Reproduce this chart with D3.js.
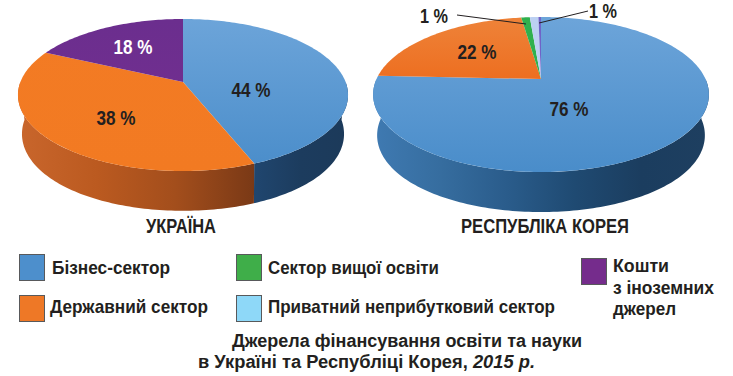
<!DOCTYPE html>
<html><head><meta charset="utf-8">
<script src="https://cdn.jsdelivr.net/npm/d3@7"></script>
<style>html,body{margin:0;padding:0;background:#fff}svg{display:block}
text{font-family:"Liberation Sans",Arial,sans-serif;font-weight:700;fill:#231f20}</style>
</head><body><svg id="c" width="733" height="376"></svg>
<script>
const categories=["Бізнес-сектор","Державний сектор","Сектор вищої освіти","Приватний неприбутковий сектор","Кошти з іноземних джерел"];
const ukraineValues=[44,38,0,0,18];
const koreaValues=[75.7,22,1,1,0.3];
const ukraineLabels=["44 %","38 %","","","18 %"];
const koreaLabels=["76 %","22 %","1 %","1 %",""];
const topColors=[["#6ca4d9","#4a8dca"],["#f37b24","#f27a22"],["#2fb04e","#2fb04e"],["#bcd0f2","#bcd0f2"],["#6b2e8e","#762f91"]];
const koreaOrange=["#ee8238","#ed6e20"];
const legendColors=["#4d8fcc","#ee7826","#3fae49","#8ed8f8","#752c8c"];

const svg=d3.select("#c");
const defs=svg.append("defs");
const pie=d3.pie().sort(null).startAngle(0).endAngle(2*Math.PI).value(d=>d);

function vGrad(id,a,b,y1,y2){
  const g=defs.append("linearGradient").attr("id",id).attr("gradientUnits","userSpaceOnUse")
    .attr("x1",0).attr("x2",0).attr("y1",y1).attr("y2",y2);
  g.append("stop").attr("offset",0).attr("stop-color",a);
  g.append("stop").attr("offset",1).attr("stop-color",b);
}
function hGrad(id,stops){
  const g=defs.append("linearGradient").attr("id",id);
  stops.forEach((c,i)=>g.append("stop").attr("offset",i/(stops.length-1)).attr("stop-color",c));
}
hGrad("sideOrangeUA",["#c9662c","#bb5a20","#a34e1c","#7a3916"]);
hGrad("sideBlueUA",["#20466f","#1c3c5e","#1c3a5a"]);
hGrad("sideBlueKR",["#3f7ab2","#366d9f","#2a5c8b","#1f4a72","#1b3d5f","#1e3f60"]);

function label(sel,x,y,size,width,anchor,txt){
  return sel.append("text").attr("x",x).attr("y",y).attr("text-anchor",anchor).attr("font-size",size)
    .attr("textLength",width).attr("lengthAdjust","spacingAndGlyphs").text(txt);
}
function drawPie(id,o){
  const g=svg.append("g").attr("id",id);
  const arcs=pie(o.values);
  const px=(th,low)=>{
    const u=Math.sin(th),v=-Math.cos(th),w=1-o.k*v;
    const sx=low?1-o.shrink*u*u:1,sy=low?o.lowY:1;
    return [o.cx+sx*o.rx*u/w,o.ay+(low?o.depth:0)+sy*o.ry*v/w];
  };
  const line=d3.line();
  const range=(a,b)=>{const n=Math.max(2,Math.ceil((b-a)/0.02));return d3.range(n+1).map(i=>a+(b-a)*i/n);};
  arcs.forEach((d,i)=>{
    const a=Math.max(d.startAngle,Math.PI/2),b=Math.min(d.endAngle,3*Math.PI/2);
    if(b<=a||!o.side[i])return;
    const t=range(a,b);
    const pts=t.map(x=>px(x,false)).concat(t.slice().reverse().map(x=>px(x,true)));
    g.append("path").attr("d",line(pts)+"Z").attr("fill",`url(#${o.side[i]})`);
  });
  arcs.forEach((d,i)=>{
    if(d.endAngle-d.startAngle<=0)return;
    const pts=[[o.cx,o.ay]].concat(range(d.startAngle,d.endAngle).map(x=>px(x,false)));
    g.append("path").attr("d",line(pts)+"Z").attr("fill",o.fill[i]);
  });
  o.labelPos.forEach((p,i)=>{
    if(!o.labels[i])return;
    label(g,p[0],p[1],20,p[2],"middle",o.labels[i]).style("fill",p[3]||"#231f20");
  });
  label(g,o.titleX,233,21,o.titleW,"middle",o.title);
}
const uaFill=["ua0","ua1","ua2","ua3","ua4"].map((id,i)=>{vGrad(id,topColors[i][0],topColors[i][1],20,170);return `url(#${id})`;});
const krFill=["kr0","kr1","kr2","kr3","kr4"].map((id,i)=>{
  const c=i==1?koreaOrange:topColors[i];
  if(i==1)vGrad(id,c[0],c[1],20,80);else vGrad(id,c[0],c[1],20,170);
  return `url(#${id})`;});
krFill[4]="#6f63c8";

drawPie("ua",{values:ukraineValues,labels:ukraineLabels,cx:183,ay:82,rx:162.6,ry:73.8,k:0.171,depth:38,shrink:.025,lowY:1.02,
  fill:uaFill,side:["sideBlueUA","sideOrangeUA",null,null,null],
  labelPos:[[251,97,39],[116,125,39],[0,0],[0,0],[133,54,39,"#fff"]],title:"УКРАЇНА",titleX:181,titleW:70});
drawPie("kr",{values:koreaValues,labels:koreaLabels,cx:541,ay:79,rx:164.5,ry:74.4,k:0.2,depth:40,shrink:.025,lowY:1.0,
  fill:krFill,side:["sideBlueKR",null,null,null,null],
  labelPos:[[569,116,39],[477,59,39],[434,23,28],[603,18,28],[0,0]],title:"РЕСПУБЛІКА КОРЕЯ",titleX:545,titleW:168});

const lead=[[[457,15],[526,24]],[[588,11],[539,23]]];
lead.forEach(l=>svg.append("path").attr("d",d3.line()(l)).attr("stroke","#231f20").attr("stroke-width",1).attr("fill","none"));

const legendRows=[
 {i:0,sx:19,sy:254,tx:52,ty:274,w:[118]},
 {i:1,sx:19,sy:295,tx:50,ty:313,w:[158]},
 {i:2,sx:236,sy:254,tx:268,ty:274,w:[171]},
 {i:3,sx:236,sy:295,tx:268,ty:313,w:[287]},
 {i:4,sx:581,sy:258,tx:613,ty:272,lines:["Кошти","з іноземних","джерел"],w:[56,101,63]}];
legendRows.forEach(r=>{
  svg.append("rect").attr("x",r.sx+.5).attr("y",r.sy+.5).attr("width",25).attr("height",26)
    .attr("fill",legendColors[r.i]).attr("stroke","#58595b").attr("stroke-width",1);
  (r.lines||[categories[r.i]]).forEach((t,j)=>label(svg,r.tx,r.ty+j*21.5,19,r.w[j],"start",t));
});
label(svg,232,347,17.5,350,"start","Джерела фінансування освіти та науки");
const c2=svg.append("text").attr("x",198).attr("y",368).attr("font-size",17.5).attr("textLength",337).attr("lengthAdjust","spacingAndGlyphs");
c2.append("tspan").text("в Україні та Республіці Корея, ");
c2.append("tspan").attr("font-style","italic").text("2015 р.");
</script></body></html>
